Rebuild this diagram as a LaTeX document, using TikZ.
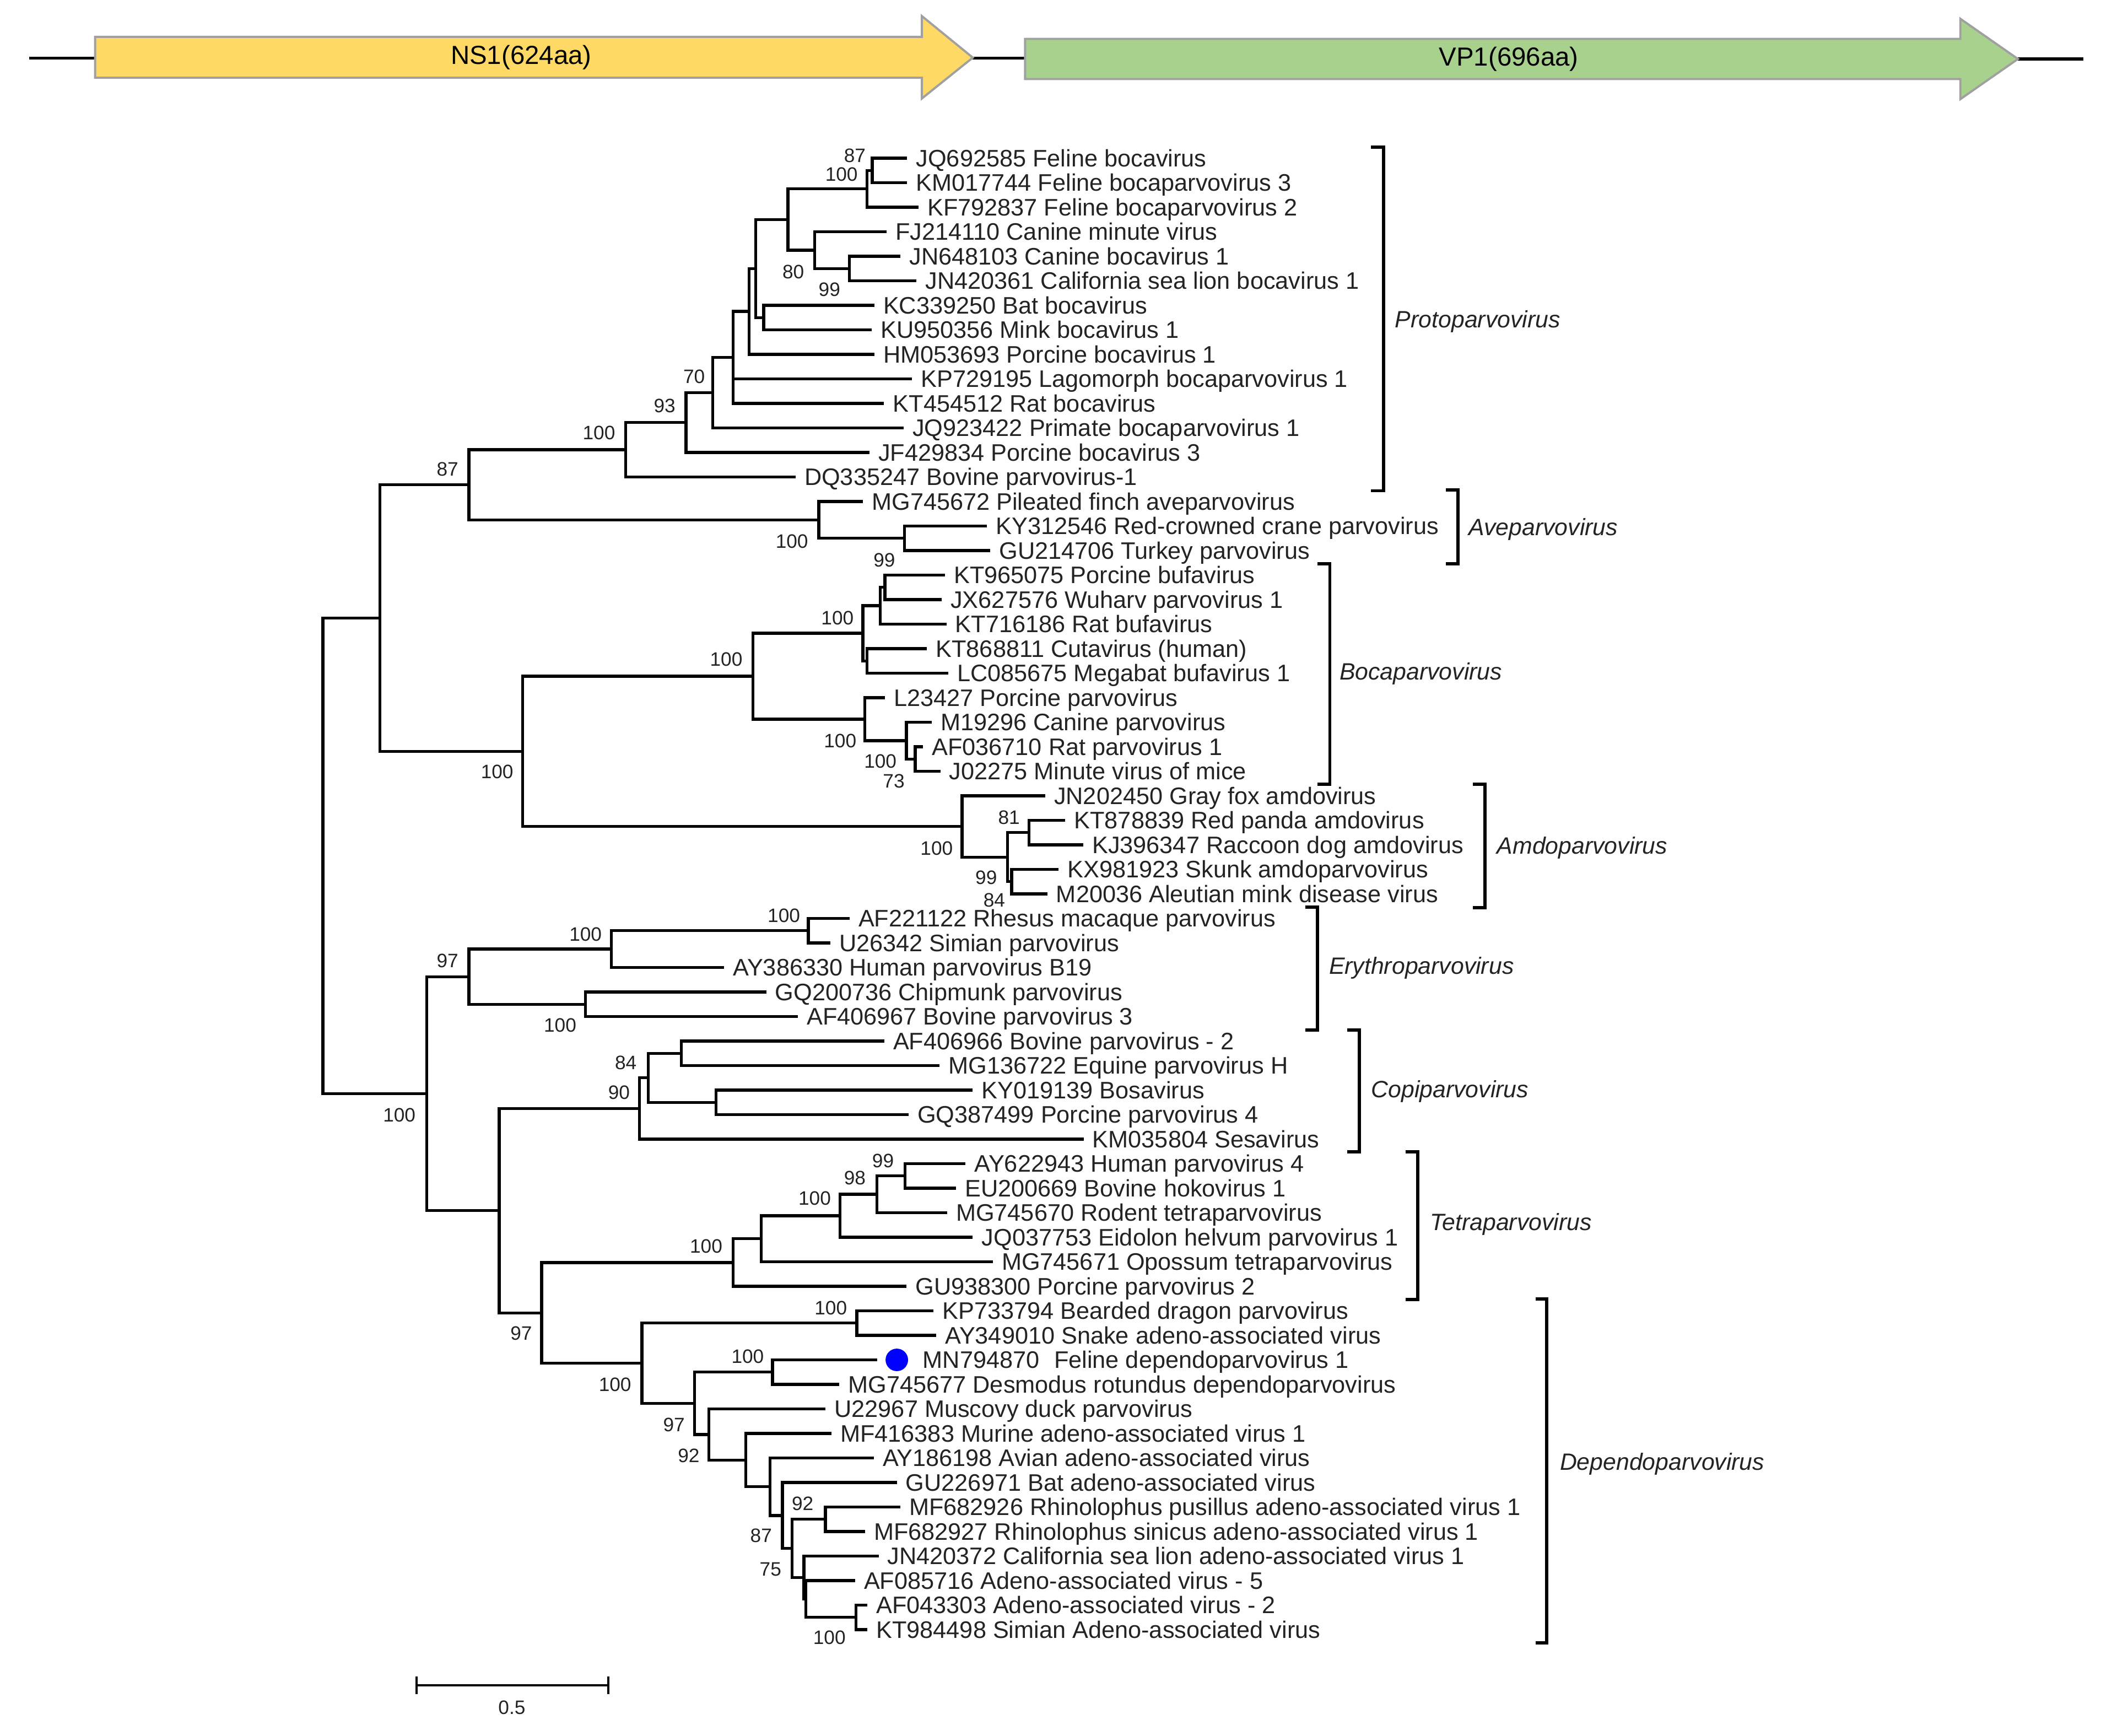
\documentclass[tikz,border=0pt]{standalone}
\usepackage{fontspec}
\setmainfont{Liberation Sans}
\usetikzlibrary{calc}
\definecolor{nsyellow}{RGB}{255,217,102}
\definecolor{vpgreen}{RGB}{169,209,142}
\definecolor{arrowedge}{RGB}{160,160,160}
\definecolor{txt}{RGB}{35,35,35}
\newcommand\mkleaf[4]{\coordinate (#1) at (#3,{118+(#2-1)*18.3}); \node[leaflabel] (#1t) at (#1) {#4};}
\newcommand\mkbr[2]{\draw[branch] (#1) |- (#2);}
\newcommand\mknode[4]{\coordinate (#1mid) at ($(#3)!0.5!(#4)$); \coordinate (#1) at (#2,0 |- #1mid); \mkbr{#1}{#3}\mkbr{#1}{#4}}
\begin{document}
\begin{tikzpicture}[x=1pt,y=-1pt,
  branch/.style={line width=2.2pt, black, line join=miter},
  leaflabel/.style={anchor=base west, inner sep=0pt, xshift=6.5pt, yshift=-6.3pt, font=\fontsize{17.8}{18}\selectfont, text=txt},
  boot/.style={inner sep=0pt, font=\fontsize{14.5}{15}\selectfont, text=txt},
  genus/.style={anchor=base west, inner sep=0pt, yshift=-6.3pt, font=\fontsize{17.6}{18}\selectfont\itshape, text=txt},
  bracketline/.style={line width=2.4pt, black, line join=miter},
  gene/.style={draw=arrowedge, line width=1.6pt, line join=miter},
  genetext/.style={font=\fontsize{19.5}{20}\selectfont, text=black, inner sep=0pt},
]
\fill[white] (0,0) rectangle (1568,1295);
\useasboundingbox (0,0) rectangle (1568,1295);

% ---------- gene map ----------
\coordinate (g0) at (22,43.5);
\coordinate (g1) at (71,43.5);
\coordinate (g2) at (726,43.5);
\coordinate (g3) at (765,43.5);
\coordinate (g4) at (1506,44);
\coordinate (g5) at (1555,44);
\draw[line width=2.2pt] (g0) -- (g1);
\draw[line width=2.2pt] (g2) -- (g3);
\draw[line width=2.2pt] (g4) -- (g5);
\filldraw[gene, fill=nsyellow] (71,27.5) -- (688,27.5) -- (688,12) -- (726,43) -- (688,73.5) -- (688,58) -- (71,58) -- cycle;
\filldraw[gene, fill=vpgreen] (765,29) -- (1463,29) -- (1463,14) -- (1506,44) -- (1463,74) -- (1463,59) -- (765,59) -- cycle;
\node[genetext] (ns1) at (389,43) {NS1(624aa)};
\node[genetext] (vp1) at (1126,44) {VP1(696aa)};

% ---------- leaves ----------
\mkleaf{JQ692585}{1}{677}{JQ692585 Feline bocavirus}
\mkleaf{KM017744}{2}{677}{KM017744 Feline bocaparvovirus 3}
\mkleaf{KF792837}{3}{685.5}{KF792837 Feline bocaparvovirus 2}
\mkleaf{FJ214110}{4}{661.7}{FJ214110 Canine minute virus}
\mkleaf{JN648103}{5}{672}{JN648103 Canine bocavirus 1}
\mkleaf{JN420361}{6}{684}{JN420361 California sea lion bocavirus 1}
\mkleaf{KC339250}{7}{652.5}{KC339250 Bat bocavirus}
\mkleaf{KU950356}{8}{650.6}{KU950356 Mink bocavirus 1}
\mkleaf{HM053693}{9}{652.5}{HM053693 Porcine bocavirus 1}
\mkleaf{KP729195}{10}{680.6}{KP729195 Lagomorph bocaparvovirus 1}
\mkleaf{KT454512}{11}{659.8}{KT454512 Rat bocavirus}
\mkleaf{JQ923422}{12}{674.4}{JQ923422 Primate bocaparvovirus 1}
\mkleaf{JF429834}{13}{648.8}{JF429834 Porcine bocavirus 3}
\mkleaf{DQ335247}{14}{593.7}{DQ335247 Bovine parvovirus-1}
\mkleaf{MG745672}{15}{644}{MG745672 Pileated finch aveparvovirus}
\mkleaf{KY312546}{16}{736.5}{KY312546 Red-crowned crane parvovirus}
\mkleaf{GU214706}{17}{739}{GU214706 Turkey parvovirus}
\mkleaf{KT965075}{18}{705.2}{KT965075 Porcine bufavirus}
\mkleaf{JX627576}{19}{702.8}{JX627576 Wuharv parvovirus 1}
\mkleaf{KT716186}{20}{706.3}{KT716186 Rat bufavirus}
\mkleaf{KT868811}{21}{691.8}{KT868811 Cutavirus (human)}
\mkleaf{LC085675}{22}{707.7}{LC085675 Megabat bufavirus 1}
\mkleaf{L23427}{23}{660.4}{L23427 Porcine parvovirus}
\mkleaf{M19296}{24}{695.3}{M19296 Canine parvovirus}
\mkleaf{AF036710}{25}{688.8}{AF036710 Rat parvovirus 1}
\mkleaf{J02275}{26}{701.8}{J02275 Minute virus of mice}
\mkleaf{JN202450}{27}{780}{JN202450 Gray fox amdovirus}
\mkleaf{KT878839}{28}{795}{KT878839 Red panda amdovirus}
\mkleaf{KJ396347}{29}{808.4}{KJ396347 Raccoon dog amdovirus}
\mkleaf{KX981923}{30}{790}{KX981923 Skunk amdoparvovirus}
\mkleaf{M20036}{31}{781.6}{M20036 Aleutian mink disease virus}
\mkleaf{AF221122}{32}{634}{AF221122 Rhesus macaque parvovirus}
\mkleaf{U26342}{33}{619.7}{U26342 Simian parvovirus}
\mkleaf{AY386330}{34}{540.4}{AY386330 Human parvovirus B19}
\mkleaf{GQ200736}{35}{571.8}{GQ200736 Chipmunk parvovirus}
\mkleaf{AF406967}{36}{595.4}{AF406967 Bovine parvovirus 3}
\mkleaf{AF406966}{37}{659.9}{AF406966 Bovine parvovirus - 2}
\mkleaf{MG136722}{38}{701.2}{MG136722 Equine parvovirus H}
\mkleaf{KY019139}{39}{726}{KY019139 Bosavirus}
\mkleaf{GQ387499}{40}{678.1}{GQ387499 Porcine parvovirus 4}
\mkleaf{KM035804}{41}{808.7}{KM035804 Sesavirus}
\mkleaf{AY622943}{42}{720.5}{AY622943 Human parvovirus 4}
\mkleaf{EU200669}{43}{713.4}{EU200669 Bovine hokovirus 1}
\mkleaf{MG745670}{44}{706.8}{MG745670 Rodent tetraparvovirus}
\mkleaf{JQ037753}{45}{726}{JQ037753 Eidolon helvum parvovirus 1}
\mkleaf{MG745671}{46}{740.9}{MG745671 Opossum tetraparvovirus}
\mkleaf{GU938300}{47}{676.5}{GU938300 Porcine parvovirus 2}
\mkleaf{KP733794}{48}{696.8}{KP733794 Bearded dragon parvovirus}
\mkleaf{AY349010}{49}{698.7}{AY349010 Snake adeno-associated virus}
\coordinate (MN794870) at (654.7,{118+49*18.3});
\node[circle, fill=blue, draw=none, minimum size=16.8pt, inner sep=0pt] (bluedot) at (669.3,{118+49*18.3}) {};
\node[leaflabel, xshift=27.3pt] (MN794870t) at (MN794870) {MN794870\hspace{6pt} Feline dependoparvovirus 1};
\mkleaf{MG745677}{51}{626.4}{MG745677 Desmodus rotundus dependoparvovirus}
\mkleaf{U22967}{52}{616.1}{U22967 Muscovy duck parvovirus}
\mkleaf{MF416383}{53}{620.5}{MF416383 Murine adeno-associated virus 1}
\mkleaf{AY186198}{54}{652.1}{AY186198 Avian adeno-associated virus}
\mkleaf{GU226971}{55}{669.3}{GU226971 Bat adeno-associated virus}
\mkleaf{MF682926}{56}{671.9}{MF682926 Rhinolophus pusillus adeno-associated virus 1}
\mkleaf{MF682927}{57}{645.5}{MF682927 Rhinolophus sinicus adeno-associated virus 1}
\mkleaf{JN420372}{58}{655.7}{JN420372 California sea lion adeno-associated virus 1}
\mkleaf{AF085716}{59}{638.1}{AF085716 Adeno-associated virus - 5}
\mkleaf{AF043303}{60}{647.3}{AF043303 Adeno-associated virus - 2}
\mkleaf{KT984498}{61}{647.3}{KT984498 Simian Adeno-associated virus}

% ---------- internal nodes ----------
% Protoparvovirus
\mknode{pA}{651}{JQ692585}{KM017744}
\mknode{pB}{647}{pA}{KF792837}
\mknode{pCC}{634}{JN648103}{JN420361}
\mknode{pC}{608}{FJ214110}{pCC}
\mknode{pD}{588}{pB}{pC}
\mknode{pE}{570}{KC339250}{KU950356}
\mknode{pF}{564}{pD}{pE}
\mknode{pG}{559}{pF}{HM053693}
\mknode{pH}{547}{pG}{KT454512}
\mkbr{pH}{KP729195}
\mknode{pI}{532}{pH}{JQ923422}
\mknode{pJ}{512}{pI}{JF429834}
\mknode{pK}{467}{pJ}{DQ335247}
% Aveparvovirus
\mknode{aA}{675}{KY312546}{GU214706}
\mknode{aB}{611}{MG745672}{aA}
\mknode{nE}{350}{pK}{aB}
% Bocaparvovirus
\mknode{bA}{660.4}{KT965075}{JX627576}
\mknode{bB}{657}{bA}{KT716186}
\mknode{bC}{647}{KT868811}{LC085675}
\mknode{bD}{644}{bB}{bC}
\mknode{bE}{683}{AF036710}{J02275}
\mknode{bF}{676.4}{M19296}{bE}
\mknode{bG}{645.5}{L23427}{bF}
\mknode{bH}{562}{bD}{bG}
% Amdoparvovirus
\mknode{mA}{768}{KT878839}{KJ396347}
\mknode{mB}{755}{KX981923}{M20036}
\mknode{mC}{752}{mA}{mB}
\mknode{mD}{718}{JN202450}{mC}
\mknode{bm}{390}{bH}{mD}
\mknode{up}{283.5}{nE}{bm}
% Erythroparvovirus
\mknode{eA}{603.3}{AF221122}{U26342}
\mknode{eB}{456.2}{eA}{AY386330}
\mknode{eC}{437}{GQ200736}{AF406967}
\mknode{eD}{350}{eB}{eC}
% Copiparvovirus
\mknode{cA}{508.5}{AF406966}{MG136722}
\mknode{cB}{534.4}{KY019139}{GQ387499}
\mknode{cC}{483.7}{cA}{cB}
\mknode{cD}{477.1}{cC}{KM035804}
% Tetraparvovirus
\mknode{tA}{675.4}{AY622943}{EU200669}
\mknode{tB}{654.4}{tA}{MG745670}
\mknode{tC}{627}{tB}{JQ037753}
\mknode{tD}{568}{tC}{MG745671}
\mknode{tE}{547}{tD}{GU938300}
% Dependoparvovirus
\mknode{dA}{639.5}{KP733794}{AY349010}
\mknode{dB}{576.6}{MN794870}{MG745677}
\mknode{dCC}{638.8}{AF043303}{KT984498}
\mknode{dY}{601.5}{AF085716}{dCC}
\mknode{dX}{600}{JN420372}{dY}
\mknode{dR}{616}{MF682926}{MF682927}
\mknode{dS}{591}{dR}{dX}
\mknode{dT}{584}{GU226971}{dS}
\mknode{dU}{574.6}{AY186198}{dT}
\mknode{dV}{556.5}{MF416383}{dU}
\mknode{dW}{529}{U22967}{dV}
\mknode{dZ}{518.4}{dB}{dW}
\mknode{dD}{479}{dA}{dZ}
\mknode{td}{404.3}{tE}{dD}
\mknode{ctd}{372.5}{cD}{td}
\mknode{low}{318.5}{eD}{ctd}
\mknode{root}{241}{up}{low}

% ---------- bootstrap values ----------
\node[boot] (bs01) at (638,116) {87};
\node[boot] (bs02) at (628,130) {100};
\node[boot] (bs03) at (592,203) {80};
\node[boot] (bs04) at (619,216) {99};
\node[boot] (bs05) at (518,281) {70};
\node[boot] (bs06) at (496,303) {93};
\node[boot] (bs07) at (447,323) {100};
\node[boot] (bs08) at (334,350) {87};
\node[boot] (bs09) at (591,404) {100};
\node[boot] (bs10) at (660,418) {99};
\node[boot] (bs11) at (625,461) {100};
\node[boot] (bs12) at (542,492) {100};
\node[boot] (bs13) at (627,553) {100};
\node[boot] (bs14) at (657,568) {100};
\node[boot] (bs15) at (667,583) {73};
\node[boot] (bs16) at (371,576) {100};
\node[boot] (bs17) at (753,610) {81};
\node[boot] (bs18) at (699,633) {100};
\node[boot] (bs19) at (736,655) {99};
\node[boot] (bs20) at (742,671.5) {84};
\node[boot] (bs21) at (585,683) {100};
\node[boot] (bs22) at (437,697) {100};
\node[boot] (bs23) at (334,717) {97};
\node[boot] (bs24) at (418,765) {100};
\node[boot] (bs25) at (467,793) {84};
\node[boot] (bs26) at (462,815) {90};
\node[boot] (bs27) at (298,832) {100};
\node[boot] (bs28) at (659,866) {99};
\node[boot] (bs29) at (638,879) {98};
\node[boot] (bs30) at (608,894) {100};
\node[boot] (bs31) at (527,930) {100};
\node[boot] (bs32) at (620,976) {100};
\node[boot] (bs33) at (389,995) {97};
\node[boot] (bs34) at (558,1012) {100};
\node[boot] (bs35) at (459,1033) {100};
\node[boot] (bs36) at (503,1063) {97};
\node[boot] (bs37) at (514,1086) {92};
\node[boot] (bs38) at (599,1122) {92};
\node[boot] (bs39) at (568,1146) {87};
\node[boot] (bs40) at (575,1171) {75};
\node[boot] (bs41) at (619,1222) {100};

% ---------- genus brackets ----------
\draw[bracketline] (1023,109.7) -- (1032.4,109.7) -- (1032.4,366.2) -- (1023,366.2);
\node[genus] (gProto) at (1041,238.2) {Protoparvovirus};
\draw[bracketline] (1079,365.7) -- (1088.2,365.7) -- (1088.2,420.7) -- (1079,420.7);
\node[genus] (gAve) at (1096,393) {Aveparvovirus};
\draw[bracketline] (983.3,420.7) -- (992.5,420.7) -- (992.5,585) -- (983.3,585);
\node[genus] (gBoca) at (999.5,501) {Bocaparvovirus};
\draw[bracketline] (1099.2,585) -- (1108.4,585) -- (1108.4,677.4) -- (1099.2,677.4);
\node[genus] (gAmdo) at (1117,630.8) {Amdoparvovirus};
\draw[bracketline] (974.1,676.7) -- (983.3,676.7) -- (983.3,768.5) -- (974.1,768.5);
\node[genus] (gEry) at (991.7,720.7) {Erythroparvovirus};
\draw[bracketline] (1005.6,768.5) -- (1014.5,768.5) -- (1014.5,859.4) -- (1005.6,859.4);
\node[genus] (gCopi) at (1023.2,812.5) {Copiparvovirus};
\draw[bracketline] (1048.9,859.4) -- (1058.1,859.4) -- (1058.1,969.6) -- (1048.9,969.6);
\node[genus] (gTetra) at (1067,911.9) {Tetraparvovirus};
\draw[bracketline] (1146.2,969.3) -- (1154.4,969.3) -- (1154.4,1225.8) -- (1146.2,1225.8);
\node[genus] (gDep) at (1164,1090.8) {Dependoparvovirus};

% ---------- scale bar ----------
\coordinate (sb0) at (311,1257.5);
\coordinate (sb1) at (454,1257.5);
\draw[line width=1.8pt] (sb0) -- (sb1);
\draw[line width=1.5pt] (311,1251) -- (311,1264);
\draw[line width=1.5pt] (454,1251) -- (454,1264);
\node[boot] (sbt) at (382,1274) {0.5};
\end{tikzpicture}
\end{document}
